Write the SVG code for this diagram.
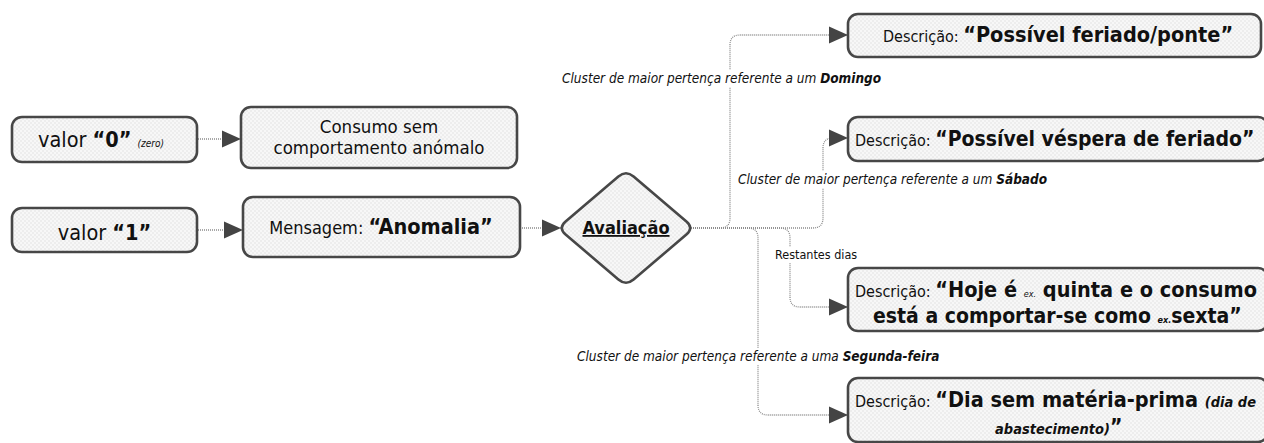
<svg xmlns="http://www.w3.org/2000/svg" width="1264" height="443" viewBox="0 0 1264 443">
<style>
text{font-family:"DejaVu Sans Condensed","DejaVu Sans",sans-serif;fill:#111}
.box{fill:url(#hatch);stroke:#474747;stroke-width:2.6}
.con{fill:none;stroke:#8c8c8c;stroke-width:1.3;stroke-dasharray:1 1;marker-end:url(#arr)}
.b{font-weight:bold}
.i{font-style:italic}
.lbl{font-size:13.5px;font-style:italic}
.bg{fill:#fff}
</style>
<defs>
<pattern id="hatch" width="4" height="4" patternUnits="userSpaceOnUse">
<rect width="4" height="4" fill="#f7f7f7"/>
<rect width="2" height="2" fill="#ededed"/>
<rect x="2" y="2" width="2" height="2" fill="#ededed"/>
</pattern>
<marker id="arr" markerUnits="userSpaceOnUse" markerWidth="20" markerHeight="18" viewBox="0 0 20 18" refX="19" refY="9" orient="auto">
<path d="M0,0.5 L19,9 L0,17.5 Z" fill="#444"/>
</marker>
</defs>

<g id="connectors">
<path class="con" d="M198,139 H241"/>
<path class="con" d="M198,230 H243"/>
<path class="con" d="M520,228 H561"/>
<path class="con" d="M691,228 H720 Q730,228 730,218 V45 Q730,35 740,35 H848"/>
<path class="con" d="M691,228 H813 Q823,228 823,218 V148 Q823,138 833,138 H848"/>
<path class="con" d="M691,228 H780 Q790,228 790,238 V297 Q790,307 800,307 H848"/>
<path class="con" d="M691,228 H748 Q758,228 758,238 V405 Q758,415 768,415 H848"/>
<rect class="bg" x="560" y="70" width="345" height="17"/>
<text class="lbl" x="562" y="83">Cluster de maior pertença referente a um <tspan class="b">Domingo</tspan></text>
<rect class="bg" x="736" y="171" width="340" height="17"/>
<text class="lbl" x="738" y="184">Cluster de maior pertença referente a um <tspan class="b">Sábado</tspan></text>
<rect class="bg" x="773" y="247" width="100" height="16"/>
<text x="775" y="259" font-size="12.5">Restantes dias</text>
<rect class="bg" x="575" y="348" width="390" height="17"/>
<text class="lbl" x="577" y="361">Cluster de maior pertença referente a uma <tspan class="b">Segunda-feira</tspan></text>
</g>

<g id="n-valor0">
<rect class="box" x="12" y="117" width="185" height="45" rx="10"/>
<text x="38" y="147" font-size="21.5">valor <tspan class="b">“0”</tspan><tspan class="i" font-size="10" dx="6">(zero)</tspan></text>
</g>

<g id="n-valor1">
<rect class="box" x="12" y="208" width="185" height="44" rx="10"/>
<text x="104.5" y="240" font-size="21.5" text-anchor="middle">valor <tspan class="b">“1”</tspan></text>
</g>

<g id="n-consumo">
<rect class="box" x="241" y="107" width="276" height="61" rx="10"/>
<text x="379" y="133" font-size="18.5" text-anchor="middle">Consumo sem</text>
<text x="379" y="154" font-size="18.5" text-anchor="middle">comportamento anómalo</text>
</g>

<g id="n-mensagem">
<rect class="box" x="243" y="197" width="277" height="60" rx="10"/>
<text x="381" y="234" font-size="18" text-anchor="middle">Mensagem: <tspan class="b" font-size="21.5">“Anomalia”</tspan></text>
</g>

<g id="n-avaliacao">
<path class="box" d="M565.6,221.5 L618.4,176.5 Q626,170 633.6,176.5 L686.4,221.5 Q694,228 686.4,234.5 L633.6,279.5 Q626,286 618.4,279.5 L565.6,234.5 Q558,228 565.6,221.5 Z"/>
<text x="626" y="234" font-size="18" font-weight="bold" text-anchor="middle" text-decoration="underline">Avaliação</text>
</g>

<g id="n-feriado">
<rect class="box" x="848" y="14" width="413" height="43" rx="10"/>
<text x="883" y="42" font-size="16">Descrição: <tspan class="b" font-size="21.5">“Possível feriado/ponte”</tspan></text>
</g>

<g id="n-vespera">
<rect class="box" x="848" y="117" width="420" height="44" rx="10"/>
<text x="855" y="146" font-size="16">Descrição: <tspan class="b" font-size="21">“Possível véspera de feriado”</tspan></text>
</g>

<g id="n-hoje">
<rect class="box" x="848" y="268" width="420" height="63" rx="10"/>
<text x="855" y="297" font-size="16">Descrição: <tspan class="b" font-size="21.5">“Hoje é </tspan><tspan class="i" font-size="9">ex.</tspan><tspan class="b" font-size="21.5"> quinta e o consumo</tspan></text>
<text x="873" y="323" font-size="21" class="b">está a comportar-se como <tspan class="i" font-size="9" font-weight="bold">ex.</tspan>sexta”</text>
</g>

<g id="n-dia">
<rect class="box" x="848" y="378" width="420" height="64" rx="10"/>
<text x="855" y="407" font-size="16">Descrição: <tspan class="b" font-size="21.5">“Dia sem matéria-prima </tspan><tspan class="i b" font-size="14.5">(dia de</tspan></text>
<text x="995" y="434" font-size="14.5" class="i b">abastecimento)<tspan font-size="21" font-style="normal">”</tspan></text>
</g>
</svg>
